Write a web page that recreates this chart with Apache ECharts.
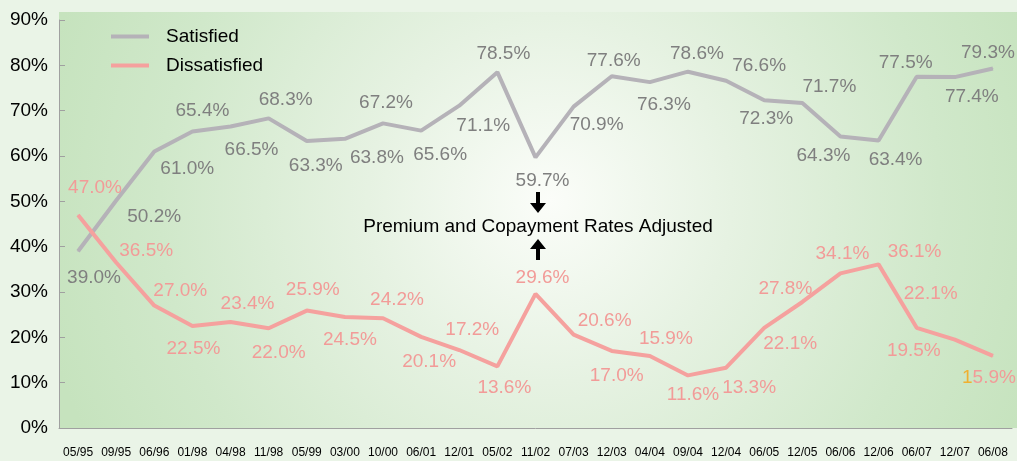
<!DOCTYPE html>
<html>
<head>
<meta charset="utf-8">
<script src="https://cdn.jsdelivr.net/npm/echarts@6/dist/echarts.min.js"></script>
<style>
html, body { margin: 0; padding: 0; background: #eaf4e7; }
#main { width: 1017px; height: 461px; }
</style>
</head>
<body>
<div id="main"></div>
<script>
var categories = ['05/95', '09/95', '06/96', '01/98', '04/98', '11/98', '05/99', '03/00', '10/00', '06/01', '12/01', '05/02', '11/02',
  '07/03', '12/03', '04/04', '09/04', '12/04', '06/05', '12/05', '06/06', '12/06', '06/07', '12/07', '06/08']
var satisfied = [39.0, 50.2, 61.0, 65.4, 66.5, 68.3, 63.3, 63.8, 67.2, 65.6, 71.1, 78.5, 59.7,
  70.9, 77.6, 76.3, 78.6, 76.6, 72.3, 71.7, 64.3, 63.4, 77.5, 77.4, 79.3]
var dissatisfied = [47.0, 36.5, 27.0, 22.5, 23.4, 22.0, 25.9, 24.5, 24.2, 20.1, 17.2, 13.6, 29.6,
  20.6, 17.0, 15.9, 11.6, 13.3, 22.1, 27.8, 34.1, 36.1, 22.1, 19.5, 15.9]
var yMax = 90
var yStep = 10
var note = 'Premium and Copayment Rates Adjusted'

// label placement (pixels from the point)
var satOffsets = [[16, 27], [38, 16], [33, 17], [10, -21], [21, 23], [17, -19], [9, 25], [32, 19], [3, -21], [19, 24], [24, 20], [6, -18], [7, 23],
  [23, 18], [2, -15], [14, 23], [9, -18], [33, -15], [2, 19], [27, -16], [-17, 19], [17, 19], [-11, -14], [17, 20], [-5, -16]]
var disOffsets = [[17, -27], [30, -12], [26, -15], [1, 23], [17, -18], [10, 24], [6, -21], [5, 23], [14, -19], [8, 25], [13, -20], [7, 21], [7, -16],
  [31, -14], [5, 25], [16, -17], [5, 19], [23, 20], [26, 16], [-17, -13], [2, -20], [36, -13], [14, -34], [-41, 11], [-4, 22]]

var font = 'Liberation Sans, Arial, sans-serif'

function withLabels (values, offsets) {
  var out = []
  for (var i = 0; i < values.length; i++) {
    out.push({ value: values[i], label: { offset: offsets[i] } })
  }
  return out
}

var satData = withLabels(satisfied, satOffsets)
var disData = withLabels(dissatisfied, disOffsets)
// the last label has an orange first digit in the original
var last = disData[disData.length - 1]
var lastText = dissatisfied[dissatisfied.length - 1].toFixed(1) + '%'
last.label.formatter = '{o|' + lastText.charAt(0) + '}' + lastText.slice(1)
last.label.rich = { o: { color: '#f0b030', fontSize: 19, fontFamily: font } }

var chart = echarts.init(document.getElementById('main'))
chart.setOption({
  backgroundColor: '#eaf4e7',
  animation: false,
  textStyle: { fontFamily: font },
  grid: { left: 59, right: 5, top: 20, bottom: 33 },
  legend: {
    orient: 'vertical',
    left: 106,
    top: 22,
    icon: 'rect',
    itemWidth: 38,
    itemHeight: 4,
    itemGap: 10,
    textStyle: { fontSize: 19, color: '#000', padding: [0, 0, 0, 12] },
    data: ['Satisfied', 'Dissatisfied']
  },
  graphic: [
    {
      type: 'rect',
      z: -10,
      shape: { x: 59, y: 12, width: 958, height: 416 },
      style: {
        fill: {
          type: 'radial', x: 550, y: 200, r: 520, global: true,
          colorStops: [
            { offset: 0, color: '#fbfdf9' },
            { offset: 0.35, color: '#e6f2e2' },
            { offset: 0.75, color: '#d0e8ca' },
            { offset: 1, color: '#c6e3be' }
          ]
        }
      }
    },
    {
      type: 'text',
      z: 10,
      x: 538,
      y: 227,
      style: { text: note, fontSize: 19, fontFamily: font, fill: '#000', align: 'center', verticalAlign: 'middle' }
    },
    {
      type: 'polygon',
      z: 10,
      shape: { points: [[536, 192], [540, 192], [540, 203], [546, 203], [538, 213], [530, 203], [536, 203]] },
      style: { fill: '#000' }
    },
    {
      type: 'polygon',
      z: 10,
      shape: { points: [[538, 239], [546, 249], [540, 249], [540, 260], [536, 260], [536, 249], [530, 249]] },
      style: { fill: '#000' }
    }
  ],
  xAxis: {
    type: 'category',
    data: categories,
    boundaryGap: true,
    axisLine: { lineStyle: { color: '#a0a0a0', width: 1 } },
    axisTick: { inside: true, length: 5, interval: 0, lineStyle: { color: '#a0a0a0' } },
    axisLabel: { interval: 0, fontSize: 12, color: '#000', margin: 19 }
  },
  yAxis: {
    type: 'value',
    min: 0,
    max: yMax,
    interval: yStep,
    axisLine: { show: true, lineStyle: { color: '#a0a0a0', width: 1 } },
    axisTick: { show: true, inside: true, length: 6, lineStyle: { color: '#a0a0a0' } },
    splitLine: { show: false },
    axisLabel: { formatter: '{value}%', fontSize: 19, color: '#000', margin: 11 }
  },
  series: [
    {
      name: 'Satisfied',
      type: 'line',
      data: satData,
      symbol: 'circle',
      symbolSize: 1,
      showSymbol: true,
      color: '#b5b2b8',
      lineStyle: { width: 4, color: '#b5b2b8' },
      label: {
        show: true,
        position: 'inside',
        fontSize: 19,
        color: '#7f7f7f',
        formatter: function (p) { return p.value.toFixed(1) + '%' }
      },
      emphasis: { disabled: true }
    },
    {
      name: 'Dissatisfied',
      type: 'line',
      data: disData,
      symbol: 'circle',
      symbolSize: 1,
      showSymbol: true,
      color: '#f5a19e',
      lineStyle: { width: 4, color: '#f5a19e' },
      label: {
        show: true,
        position: 'inside',
        fontSize: 19,
        color: '#f29b98',
        formatter: function (p) { return p.value.toFixed(1) + '%' }
      },
      emphasis: { disabled: true }
    }
  ]
})
</script>
</body>
</html>
